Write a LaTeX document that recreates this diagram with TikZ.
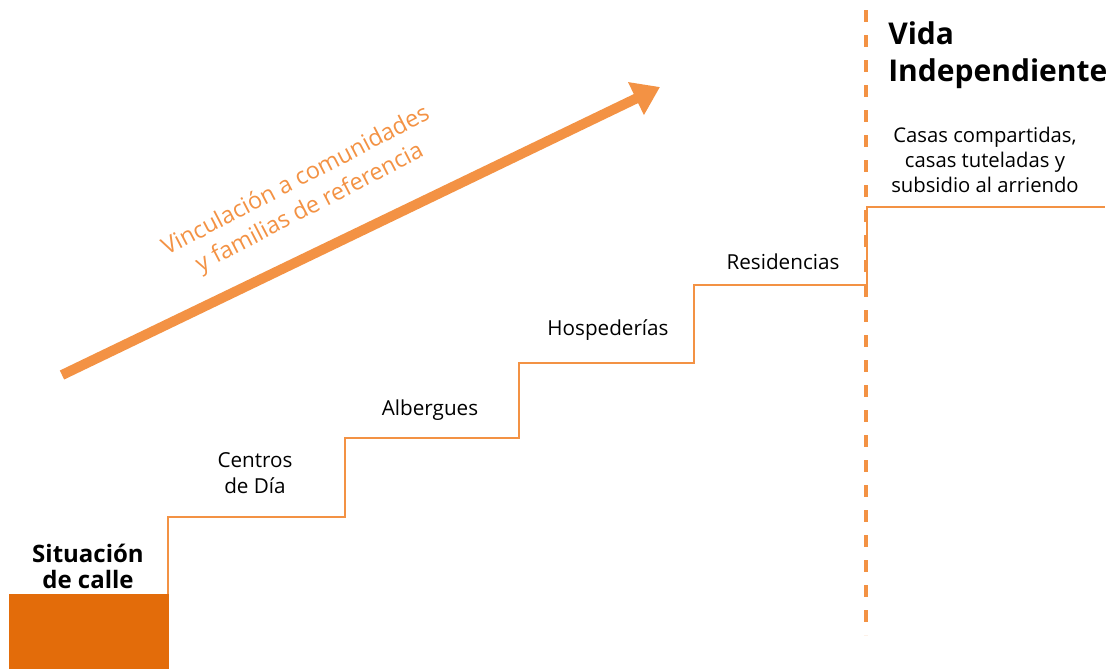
\documentclass[tikz,border=0pt]{standalone}
\usepackage{fontspec}
\setmainfont{Open Sans}
\usetikzlibrary{arrows.meta}
\definecolor{stepor}{HTML}{F39244}
\definecolor{calleor}{HTML}{E36C0A}

\begin{document}
\begin{tikzpicture}[x=0.75pt,y=-0.75pt,
  lbl/.style={align=center,font=\fontsize{15.5}{19}\selectfont},
  boldlbl/.style={align=center,font=\bfseries\fontsize{18}{19.5}\selectfont}]
 \useasboundingbox (0,0) rectangle (1112,669);
 % base and stairs
 \fill[calleor] (9,594) rectangle (169,669);
 \draw[stepor,line width=1.5pt] (168,594) -- (168,517) -- (345,517) -- (345,438)
  -- (519,438) -- (519,363) -- (694,363) -- (694,285) -- (867,285) -- (867,207) -- (1105,207);
 \draw[stepor,line width=3pt,dash pattern=on 9pt off 9.75pt] (866,10) -- (866,635);
 % arrow
 \coordinate (tail) at (62,375);
 \coordinate (tip) at (660,87);
 \draw[stepor,line width=7.5pt,-{Triangle[length=20pt,width=26pt]}] (tail) -- (tip);
 \node[stepor,align=center,rotate=27.5,font=\fontsize{17.6}{22.5}\selectfont] (vinc) at (303,195)
  {Vinculación a comunidades\\y familias de referencia};
 % labels
 \node[boldlbl] (calle) at (88,566) {Situación\\de calle};
 \node[lbl] (centros) at (255,473) {Centros\\de Día};
 \node[lbl] (albergues) at (430,410) {Albergues};
 \node[lbl] (hosped) at (608,330) {Hospederías};
 \node[lbl] (resid) at (783,262) {Residencias};
 \node[align=left,anchor=west,inner sep=0pt,font=\bfseries\fontsize{22.5}{27.75}\selectfont] (vida) at (888,55)
  {Vida\\Independiente};
 \node[lbl,font=\fontsize{15.2}{19}\selectfont] (casas) at (985,160)
  {Casas compartidas,\\casas tuteladas y\\subsidio al arriendo};
\end{tikzpicture}
\end{document}
